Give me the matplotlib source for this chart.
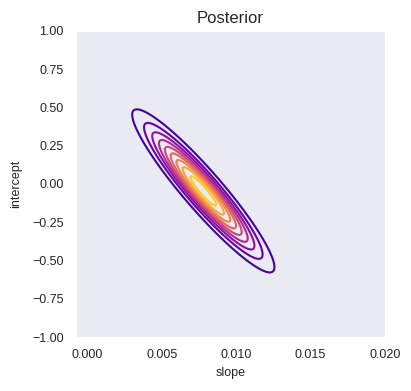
import numpy as np
import matplotlib
matplotlib.use("Agg")
import matplotlib.pyplot as plt
from matplotlib.colors import Normalize
import seaborn as sns

# Posterior summary
slope_mean = 0.0078
intercept_mean = -0.045
slope_sd = 0.00224
intercept_sd = 0.25
rho = -0.935
peak = 0.97
levels = [0.1, 0.2, 0.3, 0.4, 0.5, 0.6, 0.7, 0.8, 0.9]
xlim = (-0.00075, 0.020)
ylim = (-1.0, 1.0)
xticks = [0.0, 0.005, 0.010, 0.015, 0.020]
yticks = [-1.0, -0.75, -0.5, -0.25, 0.0, 0.25, 0.5, 0.75, 1.0]

sns.set_style("dark")
plt.rcParams['font.family'] = ['Liberation Sans', 'DejaVu Sans']

slopes = np.linspace(xlim[0], xlim[1], 400)
intercepts = np.linspace(ylim[0], ylim[1], 400)
S, I = np.meshgrid(slopes, intercepts)
zs = (S - slope_mean) / slope_sd
zi = (I - intercept_mean) / intercept_sd
q = (zs**2 - 2 * rho * zs * zi + zi**2) / (1 - rho**2)
post = peak * np.exp(-0.5 * q)

fig = plt.figure(figsize=(4.11, 3.91), dpi=100)
ax = fig.add_axes([76/411, 1 - 337/391, (385-76)/411, (337-31)/391])
ax.contour(S, I, post, levels=levels, cmap='plasma', norm=Normalize(0, 1),
           linewidths=1.5)
ax.set_xlim(*xlim)
ax.set_ylim(*ylim)
ax.set_yticks(yticks)
ax.set_xticks(xticks)
ax.tick_params(length=0, pad=9, labelsize=9, labelcolor='#262626')
ax.set_xlabel('slope', fontsize=9, color='#262626', labelpad=4)
ax.set_ylabel('intercept', fontsize=9, color='#262626', labelpad=7)
ax.set_title('Posterior', fontsize=12, color='#262626')
fig.savefig('out.png', dpi=100)
